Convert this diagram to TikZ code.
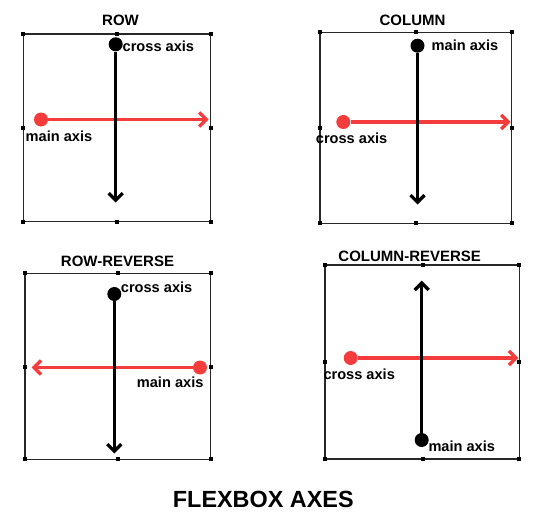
\documentclass[tikz,border=0pt]{standalone}
\usepackage{fontspec}
\setmainfont{Liberation Sans}
\usetikzlibrary{arrows.meta}
\definecolor{axred}{RGB}{244,60,60}
\definecolor{framegray}{RGB}{40,40,40}
\tikzset{
  frame/.style={draw=framegray, line width=1.3pt},
  handle/.style={rectangle, fill=black, minimum size=4pt, inner sep=0pt},
  blackdot/.style={circle, fill=black, minimum size=14pt, inner sep=0pt},
  reddot/.style={circle, fill=axred, minimum size=14pt, inner sep=0pt},
  blackaxis/.style={draw=black, line width=3.3pt, -{Straight Barb[length=7pt,width=14pt]}},
  redaxis/.style={draw=axred, line width=3.3pt, -{Straight Barb[length=7pt,width=14pt]}},
  lbl/.style={font=\bfseries\fontsize{14.6}{16}\selectfont, inner sep=0pt, anchor=base west},
  ttl/.style={font=\bfseries\fontsize{15}{17}\selectfont, inner sep=0pt, anchor=base},
  bigttl/.style={font=\bfseries\fontsize{23.4}{26}\selectfont, inner sep=0pt, anchor=base},
}
\begin{document}
\begin{tikzpicture}[x=1pt,y=-1pt]
\useasboundingbox (0,0) rectangle (539,522);

% ---------- Panel 1: ROW ----------
\node[ttl] (t1) at (120.5,25.3) {ROW};
\draw[frame] (23.3,34) rectangle (210.7,221.7);
\foreach \p in {(23.3,34),(116.7,34),(210.7,34),(23.3,127.7),(210.7,127.7),(23.3,221.7),(116.7,221.7),(210.7,221.7)}
  \node[handle] at \p {};
\node[reddot] (r1) at (41,119.5) {};
\coordinate (re1) at (208.5,119.5);
\draw[redaxis] (r1) -- (re1);
\node[blackdot] (b1) at (115.7,44.3) {};
\coordinate (be1) at (115.7,202.5);
\draw[blackaxis] (b1) -- (be1);
\node[lbl] (c1) at (122.5,51.7) {cross axis};
\node[lbl] (m1) at (25.5,141.7) {main axis};

% ---------- Panel 2: COLUMN ----------
\node[ttl] (t2) at (412.5,25.3) {COLUMN};
\draw[frame] (320,32.3) rectangle (511.7,223.3);
\foreach \p in {(320,32.3),(416,32.3),(511.7,32.3),(320,127.7),(511.7,127.7),(320,223.3),(416,223.3),(511.7,223.3)}
  \node[handle] at \p {};
\node[reddot] (r2) at (343.3,122) {};
\coordinate (re2) at (510.5,122);
\draw[redaxis] (r2) -- (re2);
\node[blackdot] (b2) at (417.5,45.7) {};
\coordinate (be2) at (417.5,204.5);
\draw[blackaxis] (b2) -- (be2);
\node[lbl] (m2) at (431.5,50) {main axis};
\node[lbl] (c2) at (315.7,143.3) {cross axis};

% ---------- Panel 3: ROW-REVERSE ----------
\node[ttl] (t3) at (117.5,266) {ROW-REVERSE};
\draw[frame] (25,273.3) rectangle (210.7,459.3);
\foreach \p in {(25,273.3),(117.7,273.3),(210.7,273.3),(25,366.7),(210.7,366.7),(25,459.3),(117.7,459.3),(210.7,459.3)}
  \node[handle] at \p {};
\node[reddot] (r3) at (200,367.5) {};
\coordinate (re3) at (31.7,367.5);
\draw[redaxis] (r3) -- (re3);
\node[blackdot] (b3) at (114.3,294) {};
\coordinate (be3) at (114.3,453.5);
\draw[blackaxis] (b3) -- (be3);
\node[lbl] (c3) at (120.7,292.7) {cross axis};
\node[lbl] (m3) at (136.7,387.7) {main axis};

% ---------- Panel 4: COLUMN-REVERSE ----------
\node[ttl] (t4) at (409.7,261.7) {COLUMN-REVERSE};
\draw[frame] (325,265) rectangle (519.3,459);
\foreach \p in {(325,265),(422.7,265),(519.3,265),(325,361.7),(519.3,361.7),(325,459),(422.7,459),(519.3,459)}
  \node[handle] at \p {};
\node[reddot] (r4) at (350.7,358) {};
\coordinate (re4) at (518.3,358);
\draw[redaxis] (r4) -- (re4);
\node[blackdot] (b4) at (421.7,440) {};
\coordinate (be4) at (421.7,280.7);
\draw[blackaxis] (b4) -- (be4);
\node[lbl] (m4) at (428.3,451.7) {main axis};
\node[lbl] (c4) at (323.3,379.3) {cross axis};

% ---------- Title ----------
\node[bigttl] (main) at (263.3,507.7) {FLEXBOX AXES};
\end{tikzpicture}
\end{document}
